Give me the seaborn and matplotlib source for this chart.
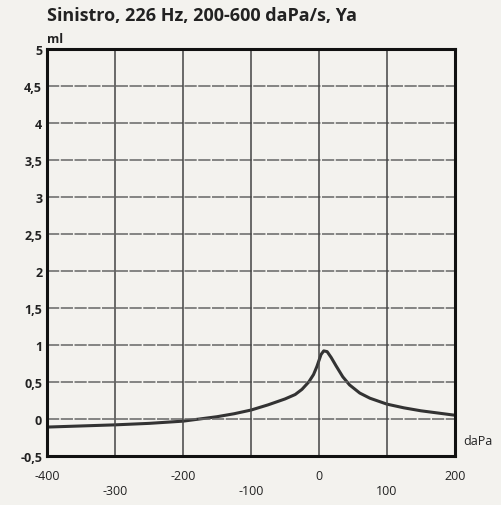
import matplotlib.pyplot as plt
import pandas as pd
import seaborn as sns

pressione = [-400, -300, -250, -200, -150, -125, -100, -75, -50, -35, -25, -15, -8, -3, 0, 3, 7, 12, 18, 25,
             35, 45, 60, 75, 100, 125, 150, 175, 200]
ammettenza = [-0.11, -0.08, -0.06, -0.03, 0.03, 0.07, 0.12, 0.19, 0.27, 0.33, 0.40, 0.50, 0.60, 0.71, 0.79, 0.87,
              0.92, 0.91, 0.83, 0.72, 0.57, 0.46, 0.35, 0.28, 0.20, 0.15, 0.11, 0.08, 0.05]

y_ticks = [-0.5, 0, 0.5, 1, 1.5, 2, 2.5, 3, 3.5, 4, 4.5, 5]
y_labels = ['-0,5', '0', '0,5', '1', '1,5', '2', '2,5', '3', '3,5', '4', '4,5', '5']
x_ticks = [-400, -300, -200, -100, 0, 100, 200]

df = pd.DataFrame({'daPa': pressione, 'ml': ammettenza})

sns.set_style('white')
plt.rcParams['font.family'] = ['Open Sans', 'DejaVu Sans']

fig = plt.figure(figsize=(5.01, 5.06), dpi=100, facecolor='#f3f2ee')
ax = fig.add_axes([0.094, 0.097, 0.814, 0.804])
ax.set_facecolor('#f3f2ee')

sns.lineplot(data=df, x='daPa', y='ml', color='#333333', linewidth=2.2, ax=ax)

ax.set_xlim(-400, 200)
ax.set_ylim(-0.5, 5)
ax.set_yticks(y_ticks)
ax.set_yticklabels(y_labels, fontsize=9, fontweight='bold', color='#222222')
ax.set_xticks(x_ticks)
ax.set_xticklabels([])
ax.tick_params(length=0)

# griglia: orizzontale tratteggiata, verticale continua
for y in y_ticks[1:-1]:
    ax.axhline(y, color='#666666', linewidth=1.1, linestyle=(0, (8, 1)))
for x in x_ticks[1:-1]:
    ax.axvline(x, color='#444444', linewidth=1.1)

for s in ax.spines.values():
    s.set_linewidth(2.2)
    s.set_color('#111111')

# etichette x sfalsate su due righe
for i, x in enumerate(x_ticks):
    dy = -0.27 if i % 2 == 0 else -0.47
    ax.text(x, -0.5 + dy, str(x), ha='center', va='center', fontsize=9,
            color='#222222', transform=ax.transData, clip_on=False)

ax.set_xlabel('')
ax.set_ylabel('')
fig.text(0.924, 0.128, 'daPa', fontsize=9, color='#222222', ha='left', va='center')
fig.text(0.094, 0.922, 'ml', fontsize=9, fontweight='bold', color='#222222', ha='left', va='center')
fig.text(0.094, 0.968, 'Sinistro, 226 Hz, 200-600 daPa/s, Ya', fontsize=13,
         fontweight='bold', color='#222222', ha='left', va='center')

fig.savefig('out.png', dpi=100, facecolor=fig.get_facecolor())
